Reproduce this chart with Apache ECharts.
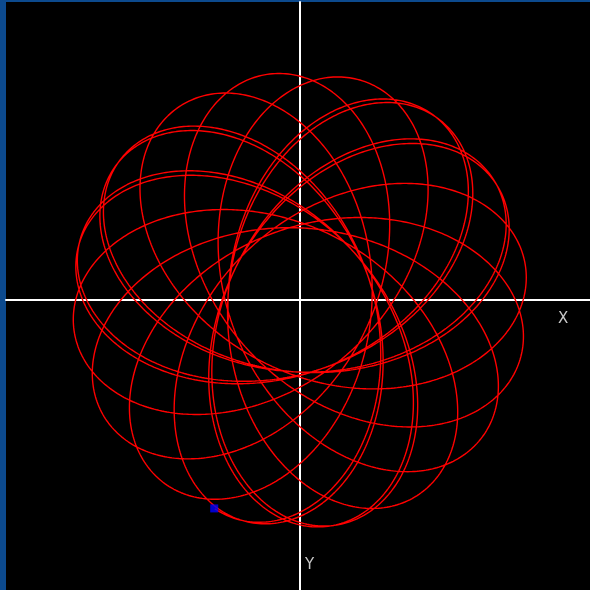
<!DOCTYPE html>
<html>
<head>
<meta charset="utf-8">
<title>spirograph</title>
<script src="https://cdn.jsdelivr.net/npm/echarts@6/dist/echarts.min.js"></script>
<style>
    html, body { margin: 0; padding: 0; background: #0c4a8e; }
    #main { width: 590px; height: 590px; }
</style>
</head>
<body>
<div id="main"></div>
<script>
    // values (pixels, y pointing down)
    var armLength = [78, 150];        // slow arm, fast arm -> inner r 72, outer r 228
    var armSpeed = [-1, 2.2042];      // 16 lobes, slightly off so the start is traced twice
    var startAngle = [106];           // direction of the last lobe tip, degrees
    var tRange = [-42.215, 0.1];      // about 21.5 lobe-to-lobe passes, ends at the pen
    var steps = [16000];
    var axisNames = ['X', 'Y'];

    var curve = [];
    var rot = startAngle[0] * Math.PI / 180;
    for (var i = 0; i <= steps[0]; i++) {
        var t = tRange[0] + (tRange[1] - tRange[0]) * i / steps[0];
        var a1 = armSpeed[0] * t + rot;
        var a2 = armSpeed[1] * t + rot;
        curve.push([
            armLength[0] * Math.cos(a1) + armLength[1] * Math.cos(a2),
            armLength[0] * Math.sin(a1) + armLength[1] * Math.sin(a2)
        ]);
    }
    var pen = [curve[curve.length - 1]];

    var myChart = echarts.init(document.getElementById("main"));
    var option = {
        animation: false,
        grid: {
            left: 6, top: 2, right: 0, bottom: 0,
            show: true,
            backgroundColor: '#000',
            borderWidth: 0
        },
        xAxis: {
            type: 'value',
            min: -294, max: 290,
            axisLine: { onZero: true, lineStyle: { color: '#fff', width: 2 } },
            axisTick: { show: false },
            axisLabel: { show: false },
            splitLine: { show: false }
        },
        yAxis: {
            type: 'value',
            inverse: true,
            min: -298, max: 290,
            axisLine: { onZero: true, lineStyle: { color: '#fff', width: 2 } },
            axisTick: { show: false },
            axisLabel: { show: false },
            splitLine: { show: false }
        },
        graphic: [
            { type: 'text', left: 558, top: 312, style: { text: axisNames[0], fill: '#c8c8c8', font: '15px "DejaVu Sans"' } },
            { type: 'text', left: 305, top: 558, style: { text: axisNames[1], fill: '#c8c8c8', font: '15px "DejaVu Sans"' } }
        ],
        series: [{
            type: 'line',
            data: curve,
            showSymbol: false,
            silent: true,
            z: 3,
            lineStyle: { color: '#ff0000', width: 1.4 }
        }, {
            type: 'scatter',
            data: pen,
            symbol: 'rect',
            symbolSize: 8,
            silent: true,
            z: 4,
            itemStyle: { color: '#0000ff' }
        }]
    };
    myChart.setOption(option);
</script>
</body>
</html>
